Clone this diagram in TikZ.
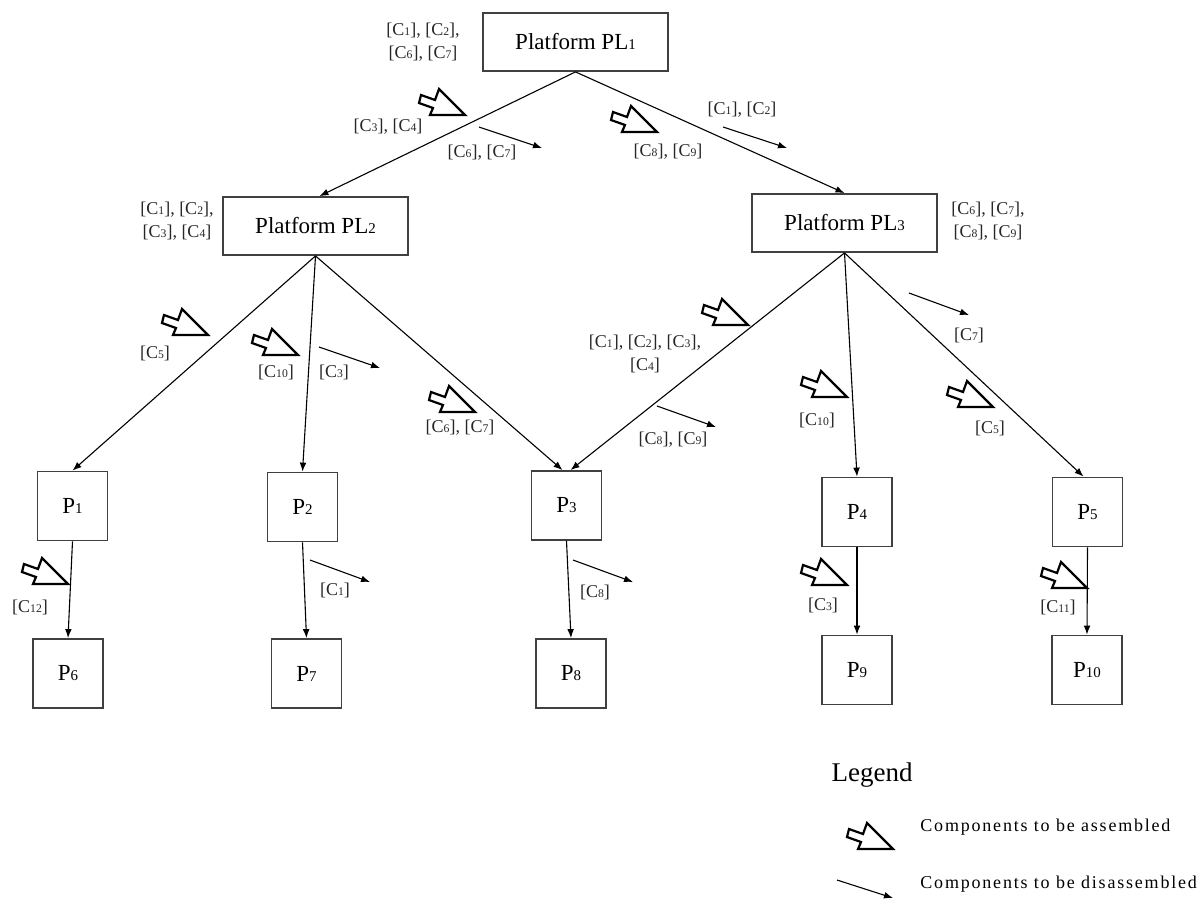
\documentclass[tikz,border=0pt]{standalone}
\usepackage{fontspec}
\setmainfont{Liberation Serif}
\newfontfamily\legfont[LetterSpace=10]{Liberation Serif}
\usepackage{graphicx}
\usetikzlibrary{arrows.meta,calc}
\newcommand\dg[1]{\scalebox{0.65}{#1}}
\begin{document}
\begin{tikzpicture}[x=0.5pt,y=-0.5pt,
 box/.style={draw=black!75, line width=0.9pt, inner sep=0pt, fill=white, font=\fontsize{11.5}{13}\selectfont},
 plat/.style={box, minimum width=92.5pt, minimum height=29pt},
 pbox/.style={box, minimum width=35pt, minimum height=34.5pt},
 lab/.style={font=\fontsize{9}{11.5}\selectfont, text=black!85, align=center, inner sep=0pt},
 conn/.style={line width=0.55pt, -{Latex[length=4.5pt,width=3.4pt]}},
 dis/.style={line width=0.55pt, -{Latex[length=4.5pt,width=3.4pt]}},
 asm/.pic={\draw[line width=1.1pt, fill=white, line join=miter] (0,0) -- (-35,0) -- (-32,-7) -- (-46,-12) -- (-44,-20) -- (-30,-15) -- (-26,-26) -- cycle;}
]
\useasboundingbox (0,0) rectangle (1197,901);

% boxes
\node[plat] (PL1) at (575.5,42) {Platform PL\dg1};
\node[plat] (PL2) at (315.5,226) {Platform PL\dg2};
\node[plat] (PL3) at (844.5,223) {Platform PL\dg3};
\node[pbox] (P1) at (72.5,506) {P\dg1};
\node[pbox] (P2) at (302.5,507) {P\dg2};
\node[pbox] (P3) at (566.5,505.5) {P\dg3};
\node[pbox] (P4) at (857,512) {P\dg4};
\node[pbox] (P5) at (1087.5,512) {P\dg5};
\node[pbox] (P6) at (68,673.5) {P\dg6};
\node[pbox] (P7) at (306.5,673.5) {P\dg7};
\node[pbox] (P8) at (571,673.5) {P\dg8};
\node[pbox] (P9) at (857,670) {P\dg9};
\node[pbox] (P10) at (1087,670) {P\dg{10}};

% connectors
\draw[conn] (PL1.south) -- ($(PL2.north)+(4,0)$);
\draw[conn] (PL1.south) -- (PL3.north);
\draw[conn] (PL2.south) -- (P1.north);
\draw[conn] (PL2.south) -- (P2.north);
\draw[conn] (PL2.south) -- ($(P3.north)+(-4,0)$);
\draw[conn] (PL3.south) -- ($(P3.north)+(4,0)$);
\draw[conn] (PL3.south) -- (P4.north);
\draw[conn] (PL3.south) -- ($(P5.north)+(-4,0)$);
\draw[conn] (P1.south) -- (P6.north);
\draw[conn] (P2.south) -- (P7.north);
\draw[conn] (P3.south) -- (P8.north);
\draw[conn] (P4.south) -- (P9.north);
\draw[conn] (P5.south) -- (P10.north);

% assembly markers
\pic at (465,115) {asm};
\pic at (657,132) {asm};
\pic at (208,335) {asm};
\pic at (298,355) {asm};
\pic at (475,412) {asm};
\pic at (748,325) {asm};
\pic at (847,397) {asm};
\pic at (993,407) {asm};
\pic at (68,584) {asm};
\pic at (847,585) {asm};
\pic at (1087,588) {asm};

% disassembly markers
\draw[dis] (479,127) -- (542,148);
\draw[dis] (723,127) -- (787,148);
\draw[dis] (319,347) -- (380,368);
\draw[dis] (657,406) -- (716,427);
\draw[dis] (909,293) -- (969,315);
\draw[dis] (310,560) -- (370,582);
\draw[dis] (573,560) -- (633,582);

% labels
\node[lab] (L1) at (423,42) {[C\dg1], [C\dg2],\\{}[C\dg6], [C\dg7]};
\node[lab] (L2) at (388,127) {[C\dg3], [C\dg4]};
\node[lab] (L3) at (482,153) {[C\dg6], [C\dg7]};
\node[lab] (L4) at (668,152) {[C\dg8], [C\dg9]};
\node[lab] (L5) at (742,110) {[C\dg1], [C\dg2]};
\node[lab] (L6) at (177,221) {[C\dg1], [C\dg2],\\{}[C\dg3], [C\dg4]};
\node[lab] (L7) at (988,221) {[C\dg6], [C\dg7],\\{}[C\dg8], [C\dg9]};
\node[lab] (L8) at (155,353) {[C\dg5]};
\node[lab] (L9) at (276,372) {[C\dg{10}]};
\node[lab] (L10) at (334,372) {[C\dg3]};
\node[lab] (L11) at (460,428) {[C\dg6], [C\dg7]};
\node[lab] (L12) at (645,354) {[C\dg1], [C\dg2], [C\dg3],\\{}[C\dg4]};
\node[lab] (L13) at (673,440) {[C\dg8], [C\dg9]};
\node[lab] (L14) at (817,420) {[C\dg{10}]};
\node[lab] (L15) at (969,335) {[C\dg7]};
\node[lab] (L16) at (990,428) {[C\dg5]};
\node[lab] (L17) at (30,607) {[C\dg{12}]};
\node[lab] (L18) at (335,590) {[C\dg1]};
\node[lab] (L19) at (595,592) {[C\dg8]};
\node[lab] (L20) at (823,605) {[C\dg3]};
\node[lab] (L21) at (1058,607) {[C\dg{11}]};

% legend
\node[font=\fontsize{13.5}{15}\selectfont, inner sep=0pt] (LEG) at (872,775) {Legend};
\pic at (893,849) {asm};
\draw[dis] (837,880) -- (893,898);
\node[anchor=west, inner sep=0pt, font=\legfont\fontsize{9}{11}\selectfont] (LA) at (920,827) {Components to be assembled};
\node[anchor=west, inner sep=0pt, font=\legfont\fontsize{9}{11}\selectfont] (LD) at (920,884) {Components to be disassembled};
\end{tikzpicture}
\end{document}
